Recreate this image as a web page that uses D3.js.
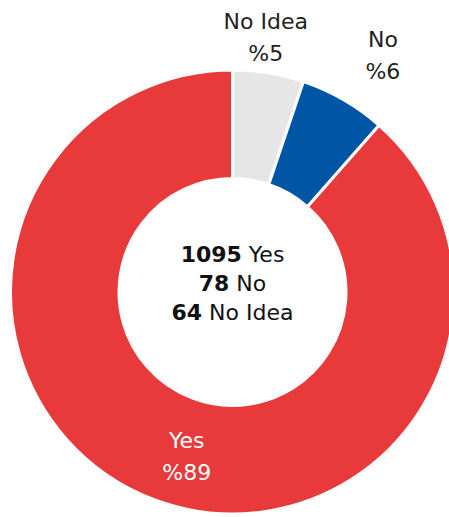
<!DOCTYPE html>
<html>
<head>
<meta charset="utf-8">
<script src="https://cdn.jsdelivr.net/npm/d3@7"></script>
<style>
  html, body { margin: 0; padding: 0; background: #ffffff; }
  svg { display: block; }
  text { font-family: "DejaVu Sans", "Open Sans", sans-serif; }
</style>
</head>
<body>
<svg id="chart" width="449" height="517"></svg>
<script>
// Survey answers, in clockwise order from 12 o'clock
const categories = ["No Idea", "No", "Yes"];
const counts = [64, 78, 1095];
const percentLabels = ["%5", "%6", "%89"];
// Centre summary lines (count + answer)
const summaryOrder = ["Yes", "No", "No Idea"];

const colors = { "No Idea": "#e6e6e6", "No": "#0055a5", "Yes": "#e8393b" };
const labelColors = { "No Idea": "#222222", "No": "#222222", "Yes": "#ffffff" };
// radius (to the first text baseline) and nudge used to place each slice label
const labelRadius = { "No Idea": 267, "No": 283, "Yes": 166.6 };
const labelNudge = { "No Idea": [-10, 0], "No": [9, 0], "Yes": [13, 0] };

const W = 449, H = 517;
const cx = 232.5, cy = 292;
const outerR = 222, innerR = 113.5;

const svg = d3.select("#chart");
const g = svg.append("g").attr("transform", `translate(${cx},${cy})`);

const data = categories.map((c, i) => ({ name: c, value: counts[i], pct: percentLabels[i] }));

const pie = d3.pie().sort(null).value(d => d.value);
const arcs = pie(data);
const arc = d3.arc().innerRadius(innerR).outerRadius(outerR);

g.selectAll("path.slice")
  .data(arcs)
  .join("path")
  .attr("class", "slice")
  .attr("d", arc)
  .attr("fill", d => colors[d.data.name])
  .attr("stroke", "#ffffff")
  .attr("stroke-width", 3)
  .attr("stroke-linejoin", "miter");

// Slice labels: name on first line, percentage below
const labels = g.selectAll("text.slice-label")
  .data(arcs)
  .join("text")
  .attr("class", "slice-label")
  .attr("text-anchor", "middle")
  .attr("font-size", 22)
  .attr("fill", d => labelColors[d.data.name])
  .attr("transform", d => {
    const r = labelRadius[d.data.name];
    const [x, y] = d3.arc().innerRadius(r).outerRadius(r).centroid(d);
    const [nx, ny] = labelNudge[d.data.name];
    return `translate(${x + nx},${y + ny})`;
  });

labels.append("tspan").attr("x", 0).attr("y", 0).text(d => d.data.name);
labels.append("tspan").attr("x", 0).attr("y", 32).text(d => d.data.pct);

// Centre summary
const summary = g.append("text")
  .attr("text-anchor", "middle")
  .attr("font-size", 22)
  .attr("fill", "#111111");

summaryOrder.forEach((name, i) => {
  const d = data.find(e => e.name === name);
  const line = summary.append("tspan")
    .attr("x", 0)
    .attr("y", -30 + i * 29);
  line.append("tspan").attr("font-weight", "bold").text(d.value);
  line.append("tspan").text(" " + d.name);
});
</script>
</body>
</html>
